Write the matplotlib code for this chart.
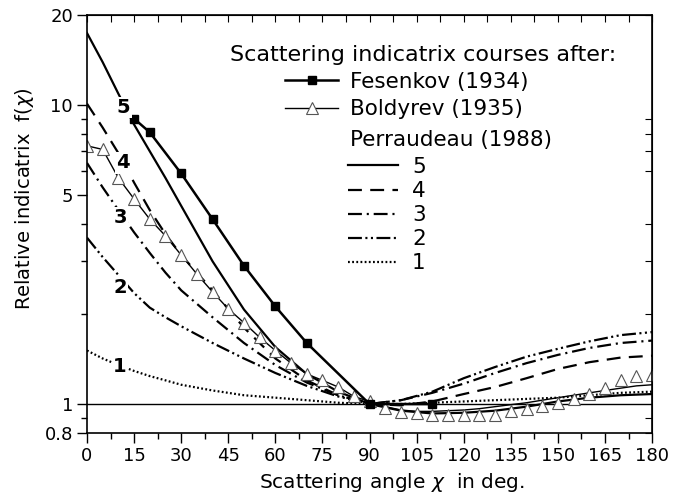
import matplotlib
matplotlib.use("Agg")
import matplotlib.pyplot as plt
from matplotlib.ticker import (FixedLocator, FixedFormatter, NullFormatter, NullLocator,
                               MultipleLocator, LogLocator)

plt.rcParams['font.family'] = ['DejaVu Sans']
plt.rcParams['font.size'] = 13
plt.rcParams['lines.scale_dashes'] = False

# Fesenkov (1934)
fes_x = [15, 20, 30, 40, 50, 60, 70, 90, 110]
fes_y = [9.0, 8.1, 5.9, 4.15, 2.9, 2.12, 1.6, 1.0, 1.0]

# Boldyrev (1935): measured points and the drawn course
bol_x = list(range(0, 181, 5))
bol_y = [7.3, 7.1, 5.7, 4.85, 4.15, 3.65, 3.15, 2.72, 2.37, 2.08, 1.87, 1.67, 1.51,
         1.37, 1.26, 1.2, 1.14, 1.06, 1.02, 0.97, 0.94, 0.93, 0.92, 0.92, 0.92, 0.92,
         0.92, 0.945, 0.965, 0.985, 1.01, 1.04, 1.08, 1.13, 1.2, 1.24, 1.25]
bol_line_y = [7.3, 7.1, 5.7, 4.85, 4.15, 3.65, 3.15, 2.72, 2.37, 2.08, 1.87, 1.67, 1.51,
              1.37, 1.26, 1.2, 1.14, 1.06, 1.02, 0.98, 0.955, 0.945, 0.945, 0.95, 0.955,
              0.965, 0.98, 0.995, 1.01, 1.03, 1.05, 1.07, 1.09, 1.11, 1.13, 1.15, 1.16]

# Perraudeau (1988), sky types 5..1
per_x = [0, 5, 10, 15, 20, 25, 30, 40, 50, 60, 70, 80, 90, 100, 110, 120, 130, 140,
         150, 160, 170, 180]
per5 = [17.4, 13.9, 10.9, 8.6, 7.0, 5.7, 4.6, 3.0, 2.07, 1.55, 1.26, 1.1, 1.0, 0.95,
        0.93, 0.935, 0.95, 0.98, 1.02, 1.05, 1.07, 1.08]
per4 = [10.1, 8.4, 6.9, 5.5, 4.45, 3.7, 3.15, 2.4, 1.8, 1.42, 1.2, 1.07, 1.0, 0.99,
        1.02, 1.08, 1.14, 1.22, 1.31, 1.38, 1.43, 1.45]
per3 = [6.4, 5.3, 4.45, 3.75, 3.2, 2.75, 2.4, 1.95, 1.6, 1.35, 1.18, 1.07, 1.0, 1.03,
        1.09, 1.17, 1.27, 1.37, 1.46, 1.54, 1.6, 1.63]
per2 = [3.6, 3.1, 2.7, 2.35, 2.1, 1.95, 1.82, 1.6, 1.42, 1.27, 1.15, 1.06, 1.0, 1.03,
        1.1, 1.22, 1.33, 1.44, 1.53, 1.62, 1.7, 1.74]
per1 = [1.51, 1.42, 1.35, 1.29, 1.24, 1.2, 1.16, 1.11, 1.07, 1.05, 1.03, 1.01, 1.0,
        1.0, 1.01, 1.02, 1.03, 1.04, 1.05, 1.07, 1.09, 1.1]

per_curves = [per5, per4, per3, per2, per1]
per_names = ['5', '4', '3', '2', '1']
per_dashes = [(None, None), (10, 6), (10, 3.5, 1.5, 3.5),
              (10, 2.5, 1.5, 2.5, 1.5, 2.5), (1.3, 1.7)]
label_x = [11.6, 11.4, 10.5, 10.5, 10.5]
label_y = [9.8, 6.4, 4.2, 2.46, 1.33]

fig = plt.figure(figsize=(6.85, 4.98), dpi=100)
ax = fig.add_axes([0.127, 0.1305, 0.825, 0.8395])

ax.axhline(1.0, color='black', lw=1.0)

per_lines = []
for y, d, name in zip(per_curves, per_dashes, per_names):
    ln, = ax.plot(per_x, y, color='black', lw=1.6, label=name)
    if d[0] is not None:
        ln.set_dashes(d)
    per_lines.append(ln)

bol_line, = ax.plot(bol_x, bol_line_y, color='black', lw=1.0)
bol_pts, = ax.plot(bol_x, bol_y, ls='none', marker='^', ms=9,
                   mfc='white', mec='#555555', mew=0.8)
fes_line, = ax.plot(fes_x, fes_y, color='black', lw=1.8, marker='s', ms=5.5,
                    mfc='black')

for lx, ly, name in zip(label_x, label_y, per_names):
    ax.text(lx, ly, name, fontsize=14, fontweight='bold', ha='center', va='center',
            bbox=dict(facecolor='white', edgecolor='none', pad=1.0))

ax.set_xlim(0, 180)
ax.set_yscale('log')
ax.set_ylim(0.8, 20)
ax.xaxis.set_major_locator(MultipleLocator(15))
ax.xaxis.set_minor_locator(MultipleLocator(7.5))
ax.yaxis.set_major_locator(FixedLocator([0.8, 1, 5, 10, 20]))
ax.yaxis.set_major_formatter(FixedFormatter(['0.8', '1', '5', '10', '20']))
ax.yaxis.set_minor_locator(LogLocator(subs=(2, 3, 4, 6, 7, 8, 9)))
ax.yaxis.set_minor_formatter(NullFormatter())
ax.tick_params(which='both', direction='out', width=1.0, pad=3)
ax.tick_params(which='major', length=7)
ax.tick_params(which='minor', length=4)
for s in ax.spines.values():
    s.set_linewidth(1.2)

top = ax.secondary_xaxis('top')
top.xaxis.set_major_locator(MultipleLocator(7.5))
top.tick_params(direction='in', length=5, labeltop=False)
right = ax.secondary_yaxis('right')
right.yaxis.set_major_locator(LogLocator(subs=(2, 3, 4, 6, 7, 8, 9)))
right.yaxis.set_minor_locator(NullLocator())
right.tick_params(direction='in', length=5, labelright=False)

ax.set_xlabel(r'Scattering angle $\chi$  in deg.', fontsize=14.5)
ax.xaxis.set_label_coords(0.54, -0.092)
ax.set_ylabel(r'Relative indicatrix  f($\chi$)', fontsize=14)
ax.yaxis.set_label_coords(-0.090, 0.562)

fig.text(230 / 685, 1 - 55 / 498, 'Scattering indicatrix courses after:',
         ha='left', va='center', fontsize=16)
fig.text(350 / 685, 1 - 140 / 498, 'Perraudeau (1988)',
         ha='left', va='center', fontsize=15.5)
leg1 = ax.legend(handles=[fes_line, (bol_line, bol_pts)],
                 labels=['Fesenkov (1934)', 'Boldyrev (1935)'], loc='upper left',
                 bbox_to_anchor=(285 / 685, 1 - 72 / 498),
                 bbox_transform=fig.transFigure, frameon=False, fontsize=15.5,
                 borderpad=0, borderaxespad=0, handlelength=2.47,
                 handletextpad=0.56, labelspacing=0.33)
ax.add_artist(leg1)
ax.legend(handles=per_lines, loc='upper left',
          bbox_to_anchor=(348 / 685, 1 - 157 / 498),
          bbox_transform=fig.transFigure, frameon=False, fontsize=15.5,
          borderpad=0, borderaxespad=0, handlelength=2.33,
          handletextpad=0.65, labelspacing=0.19)

fig.savefig('out.png', dpi=100)
